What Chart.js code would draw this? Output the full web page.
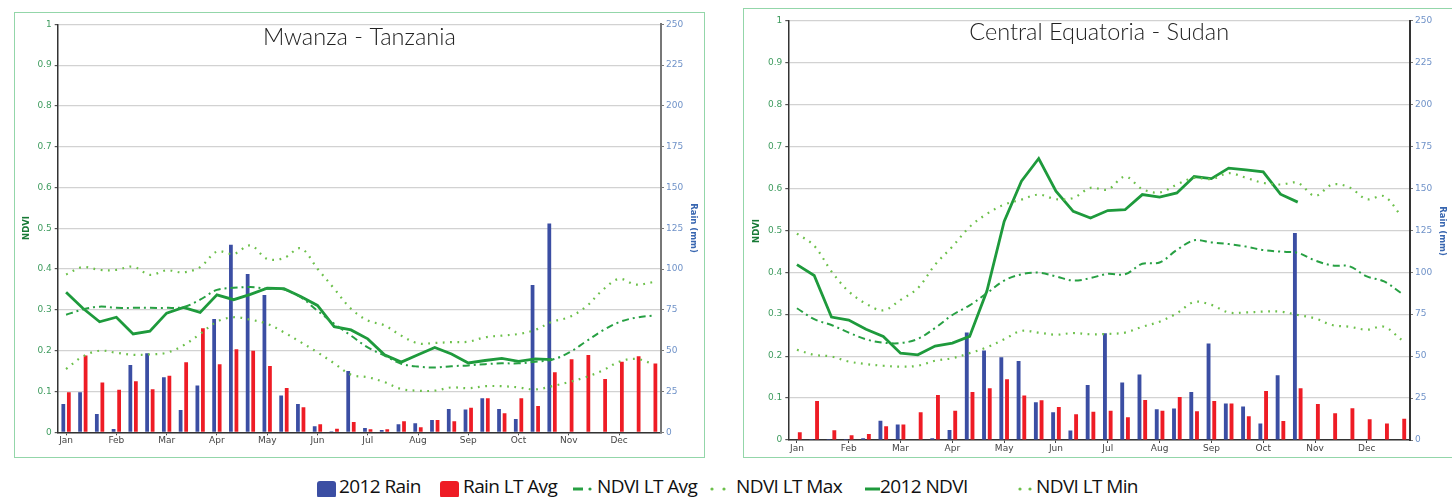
<!DOCTYPE html>
<html>
<head>
<meta charset="utf-8">
<script src="https://cdn.jsdelivr.net/npm/chart.js@4"></script>
<style>
  html, body { margin:0; padding:0; background:#fff; }
  body { width:1452px; height:497px; overflow:hidden; position:relative; }
  .panel { position:absolute; box-sizing:border-box; border:1.5px solid #93d6a9; }
  .cv { position:absolute; top:0; }
  .leg { position:absolute; top:474px; font-family:"Open Sans","Noto Sans",sans-serif; font-size:19px; letter-spacing:-0.6px; color:#111; white-space:nowrap; line-height:24px; }
  .sw { position:absolute; top:481px; width:19px; height:17px; border-radius:3px; }
</style>
</head>
<body>
<div class="panel" style="left:14px; top:12px; width:691px; height:446px;"></div>
<div class="panel" style="left:743px; top:8px; width:760px; height:450px;"></div>
<canvas id="c1" class="cv" style="left:0px" width="705" height="460"></canvas>
<canvas id="c2" class="cv" style="left:730px" width="722" height="460"></canvas>

<!-- legend -->
<div class="sw" style="left:317px; background:#3b4ea3;"></div>
<div class="leg" style="left:339px;">2012 Rain</div>
<div class="sw" style="left:440px; background:#ee1c25;"></div>
<div class="leg" style="left:463px;">Rain LT Avg</div>
<svg style="position:absolute; left:570px; top:484px;" width="28" height="10"><line x1="3" y1="5" x2="13" y2="5" stroke="#27a043" stroke-width="3"/><circle cx="20" cy="5" r="1.6" fill="#27a043"/></svg>
<div class="leg" style="left:597px;">NDVI LT Avg</div>
<svg style="position:absolute; left:706px; top:484px;" width="30" height="10"><circle cx="6" cy="5" r="1.6" fill="#6cc04a"/><circle cx="18" cy="5" r="1.6" fill="#6cc04a"/></svg>
<div class="leg" style="left:736px;">NDVI LT Max</div>
<svg style="position:absolute; left:855px; top:484px;" width="26" height="10"><line x1="10" y1="5" x2="25" y2="5" stroke="#1e9a3c" stroke-width="3"/></svg>
<div class="leg" style="left:880px;">2012 NDVI</div>
<svg style="position:absolute; left:1012px; top:484px;" width="26" height="10"><circle cx="8" cy="5" r="1.6" fill="#6cc04a"/><circle cx="18" cy="5" r="1.6" fill="#6cc04a"/></svg>
<div class="leg" style="left:1036px;">NDVI LT Min</div>

<script>
// ---------- categories (dekads) ----------
const months = ['Jan','Feb','Mar','Apr','May','Jun','Jul','Aug','Sep','Oct','Nov','Dec'];
const dekads = [];
months.forEach(m => { dekads.push(m + ' 1', m + ' 2', m + ' 3'); });
const ndviTicks = [0,0.1,0.2,0.3,0.4,0.5,0.6,0.7,0.8,0.9,1];
const rainTicks = [0,25,50,75,100,125,150,175,200,225,250];

// ---------- Mwanza - Tanzania ----------
const mwRain2012 = [17.4,24.5,11.2,2,41.3,48.4,33.7,13.7,28.6,69.5,114.9,97,84.2,22.5,17.4,3.7,0.6,37.6,2.7,1.4,4.9,5.5,7.6,14.3,13.9,20.8,14.3,8.2,90.3,128];
const mwRainLT = [24.5,47,30.5,26,31.3,26.4,34.7,42.9,63.8,41.7,50.9,49.9,40.7,27.2,15.3,4.9,2.2,6.3,1.8,1.8,6.7,3.1,7.6,6.7,15.1,20.8,11.6,20.8,16.1,36.8,44.8,47.4,32.7,43.3,46.6,42.1];
const mwNdvi2012 = [0.343,0.304,0.271,0.282,0.241,0.248,0.292,0.306,0.294,0.337,0.325,0.338,0.353,0.352,0.333,0.311,0.259,0.251,0.229,0.190,0.172,0.190,0.208,0.192,0.170,0.176,0.181,0.174,0.180,0.178];
const mwNdviAvg = [0.288,0.301,0.308,0.305,0.305,0.305,0.305,0.307,0.325,0.349,0.354,0.356,0.352,0.350,0.331,0.298,0.266,0.237,0.208,0.188,0.168,0.161,0.159,0.162,0.164,0.167,0.169,0.169,0.173,0.178,0.195,0.222,0.249,0.270,0.281,0.286];
const mwNdviMax = [0.387,0.405,0.398,0.398,0.406,0.386,0.397,0.392,0.405,0.443,0.437,0.458,0.425,0.427,0.451,0.401,0.352,0.303,0.274,0.262,0.237,0.218,0.219,0.221,0.222,0.233,0.237,0.241,0.251,0.271,0.282,0.307,0.348,0.376,0.362,0.368];
const mwNdviMin = [0.155,0.186,0.200,0.195,0.190,0.191,0.195,0.213,0.241,0.271,0.282,0.276,0.266,0.245,0.221,0.196,0.169,0.141,0.135,0.123,0.106,0.102,0.102,0.110,0.108,0.113,0.113,0.110,0.105,0.113,0.123,0.135,0.151,0.173,0.180,0.168];

// ---------- Central Equatoria - Sudan ----------
const ceRain2012 = [0.3,0.6,0.6,0.6,1,11.5,9.3,0,1,6,64,53.3,49.3,47.1,22.5,16.5,5.6,32.8,63.6,34.2,39,18.3,18.7,28.6,57.5,21.7,19.9,9.9,38.6,123.3];
const ceRainLT = [4.6,23.3,5.8,2.8,3.6,8.2,9.3,16.5,26.8,17.5,28.6,30.8,36.2,26.5,23.7,19.7,15.3,16.9,17.5,13.5,23.9,17.5,25.7,17.1,23.3,21.7,14.1,29.2,11.3,30.8,21.5,15.9,18.9,12.3,9.9,12.7];
const ceNdvi2012 = [0.418,0.392,0.293,0.286,0.264,0.247,0.207,0.203,0.224,0.231,0.247,0.355,0.521,0.617,0.671,0.593,0.545,0.529,0.547,0.549,0.585,0.579,0.589,0.628,0.623,0.648,0.644,0.639,0.586,0.567];
const ceNdviAvg = [0.314,0.288,0.274,0.256,0.240,0.232,0.231,0.241,0.267,0.298,0.321,0.350,0.380,0.395,0.399,0.390,0.380,0.386,0.396,0.395,0.420,0.423,0.453,0.476,0.471,0.467,0.461,0.453,0.449,0.446,0.428,0.416,0.414,0.390,0.378,0.350];
const ceNdviMax = [0.492,0.463,0.402,0.354,0.325,0.309,0.334,0.362,0.418,0.461,0.508,0.539,0.561,0.573,0.585,0.574,0.577,0.601,0.597,0.628,0.598,0.590,0.609,0.625,0.622,0.636,0.625,0.613,0.609,0.613,0.582,0.609,0.602,0.574,0.581,0.533];
const ceNdviMin = [0.215,0.203,0.199,0.187,0.181,0.177,0.175,0.177,0.189,0.195,0.207,0.221,0.240,0.260,0.256,0.251,0.255,0.252,0.253,0.256,0.270,0.282,0.302,0.329,0.322,0.304,0.304,0.306,0.306,0.298,0.290,0.274,0.270,0.263,0.270,0.239];

const C = {
  blue:'#3b4ea3', red:'#ee1c25', ndvi:'#1e9a3c', avg:'#27a043', mm:'#6cc04a',
  grid:'#d2d2d2', ndviTick:'#3f9c5f', rainTick:'#6f92c8', ndviTitle:'#177a36', rainTitle:'#3866b0'
};
const tickFont = { family:'"DejaVu Sans", Verdana, sans-serif', size:9 };

const panelText = {
  id:'panelText',
  afterDraw(chart, args, o) {
    const c = chart.ctx, a = chart.chartArea;
    c.save();
    c.font = '300 23.5px Lato, "Open Sans", sans-serif';
    c.fillStyle = '#222'; c.textAlign = 'center'; c.textBaseline = 'alphabetic';
    c.fillText(o.title, (a.left + a.right) / 2, o.titleY);
    c.font = 'bold 8.5px "DejaVu Sans", Verdana, sans-serif';
    c.textBaseline = 'middle';
    c.save(); c.translate(o.ndviX, o.axisY); c.rotate(-Math.PI/2);
    c.fillStyle = C.ndviTitle; c.fillText('NDVI', 0, 0); c.restore();
    c.save(); c.translate(o.rainX, o.axisY); c.rotate(Math.PI/2);
    c.fillStyle = C.rainTitle; c.fillText('Rain (mm)', 0, 0); c.restore();
    c.restore();
  }
};

function build(id, d, g) {
  const pad = (n) => Array.from({length:36}, (_, i) => i < n.length ? n[i] : null);
  const lineBase = { type:'line', yAxisID:'y', pointRadius:0, fill:false, order:0, spanGaps:false };
  return new Chart(document.getElementById(id), {
    data: {
      labels: dekads,
      datasets: [
        { type:'bar', label:'2012 Rain', data:pad(d.rain), yAxisID:'y2', backgroundColor:C.blue, order:1,
          categoryPercentage:0.66, barPercentage:0.68 },
        { type:'bar', label:'Rain LT Avg', data:d.rainLT, yAxisID:'y2', backgroundColor:C.red, order:1,
          categoryPercentage:0.66, barPercentage:0.68 },
        Object.assign({}, lineBase, { label:'NDVI LT Avg', data:d.avg, borderColor:C.avg, borderWidth:2,
          borderDash:[7,4,2,4], tension:0.35 }),
        Object.assign({}, lineBase, { label:'NDVI LT Max', data:d.max, borderColor:C.mm, borderWidth:2.2,
          borderDash:[1.8,5.5], tension:0.35 }),
        Object.assign({}, lineBase, { label:'2012 NDVI', data:pad(d.ndvi), borderColor:C.ndvi, borderWidth:2.8,
          tension:0 }),
        Object.assign({}, lineBase, { label:'NDVI LT Min', data:d.min, borderColor:C.mm, borderWidth:2.2,
          borderDash:[1.8,5.5], tension:0.35 })
      ]
    },
    options: {
      responsive:false, animation:false, devicePixelRatio:1,
      layout: { autoPadding:false, padding:{ top:g.top, left:0, right:0, bottom:0 } },
      plugins: { legend:{ display:false }, tooltip:{ enabled:false }, panelText:g.text },
      scales: {
        x: {
          type:'category', offset:true,
          afterFit: s => { s.height = g.xh; },
          grid: { drawOnChartArea:false, offset:false, tickLength:3,
            color: ctx => (ctx.index % 3 === 0 ? '#444' : 'rgba(0,0,0,0)') },
          border: { color:'#333', width:1.5 },
          ticks: { autoSkip:false, maxRotation:0, padding:0, color:'#444', font:tickFont,
            callback: (v, i) => (i % 3 === 0 ? months[i/3] : '') }
        },
        y: {
          position:'left', min:0, max:1,
          afterFit: s => { s.width = g.yw; },
          afterBuildTicks: s => { s.ticks = ndviTicks.map(v => ({ value:v })); },
          grid: { color:C.grid, lineWidth:1.2, tickColor:'#555', tickLength:3 },
          border: { color:'#333', width:1.5 },
          ticks: { padding:3, color:C.ndviTick, font:tickFont, callback: v => String(+v.toFixed(1)) }
        },
        y2: {
          position:'right', min:0, max:250,
          afterFit: s => { s.width = g.y2w; },
          afterBuildTicks: s => { s.ticks = rainTicks.map(v => ({ value:v })); },
          grid: { drawOnChartArea:false, color:'#777', tickLength:3 },
          border: { color:g.rightAxis, width:2 },
          ticks: { padding:2, color:C.rainTick, font:tickFont }
        }
      }
    },
    plugins:[panelText]
  });
}

build('c1',
  { rain:mwRain2012, rainLT:mwRainLT, ndvi:mwNdvi2012, avg:mwNdviAvg, max:mwNdviMax, min:mwNdviMin },
  { top:24.3, xh:27.7, yw:57.7, y2w:44, rightAxis:'#777',
    text:{ title:'Mwanza - Tanzania', titleY:45, ndviX:27, rainX:693, axisY:228 } });

build('c2',
  { rain:ceRain2012, rainLT:ceRainLT, ndvi:ceNdvi2012, avg:ceNdviAvg, max:ceNdviMax, min:ceNdviMin },
  { top:20.5, xh:20, yw:58.3, y2w:42, rightAxis:'#333',
    text:{ title:'Central Equatoria - Sudan', titleY:40, ndviX:27, rainX:712, axisY:231 } });
</script>
</body>
</html>
